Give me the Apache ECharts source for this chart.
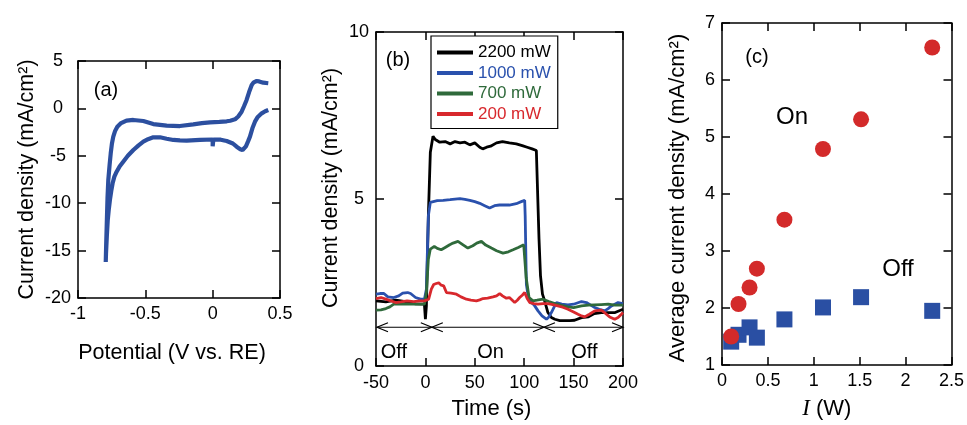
<!DOCTYPE html>
<html><head><meta charset="utf-8">
<script src="https://cdn.jsdelivr.net/npm/echarts@6/dist/echarts.min.js"></script>
<style>html,body{margin:0;padding:0;background:#fff}#c{width:967px;height:425px}</style>
</head><body><div id="c"></div>
<script>
// ---------- (a) cyclic voltammogram: [potential V, current density mA/cm2] ----------
const cvUpperBranch = [[0.413,2.65],[0.376,2.71],[0.345,2.85],[0.327,2.89],[0.305,2.75],[0.290,2.47],[0.270,1.70],[0.252,0.89],[0.232,0.20],[0.215,-0.35],[0.190,-0.85],[0.166,-1.15],[0.130,-1.30],[0.104,-1.36],[0.050,-1.42],[-0.020,-1.47],[-0.080,-1.56],[-0.144,-1.68],[-0.243,-1.86],[-0.342,-1.82],[-0.441,-1.65],[-0.515,-1.33],[-0.589,-1.22],[-0.640,-1.28],[-0.680,-1.55],[-0.708,-1.93],[-0.725,-2.40],[-0.738,-2.98],[-0.748,-3.70],[-0.757,-4.74],[-0.765,-5.90],[-0.775,-7.55],[-0.781,-9.50],[-0.787,-12.5],[-0.791,-14.5],[-0.794,-16.2]];
const cvLowerBranch = [[-0.792,-15.3],[-0.786,-13.5],[-0.779,-11.77],[-0.771,-10.6],[-0.763,-9.66],[-0.753,-8.70],[-0.743,-7.90],[-0.730,-7.20],[-0.713,-6.68],[-0.690,-6.10],[-0.664,-5.62],[-0.630,-5.00],[-0.589,-4.39],[-0.550,-3.90],[-0.515,-3.51],[-0.480,-3.25],[-0.441,-3.05],[-0.391,-3.05],[-0.342,-3.20],[-0.292,-3.33],[-0.243,-3.38],[-0.193,-3.40],[-0.094,-3.33],[0.000,-3.28],[0.000,-4.00],[0.005,-3.28],[0.060,-3.30],[0.104,-3.44],[0.150,-3.70],[0.178,-4.04],[0.205,-4.30],[0.222,-4.39],[0.235,-4.35],[0.247,-4.00],[0.262,-3.50],[0.277,-2.98],[0.295,-2.10],[0.314,-1.40],[0.335,-0.90],[0.364,-0.52],[0.390,-0.30],[0.413,-0.17]];

// ---------- (b) chronoamperometry: [time s, current density mA/cm2] ----------
const trace2200 = [[-50,1.95],[-40,1.92],[-30,1.97],[-20,1.93],[-10,1.86],[-1,1.85],[0,1.40],[1,1.80],[3,4.50],[5,6.40],[7.7,6.88],[10,6.78],[14.5,6.70],[20,6.72],[25,6.65],[30,6.72],[35,6.68],[40,6.70],[45,6.62],[50,6.68],[55,6.55],[58,6.50],[62,6.55],[66,6.58],[72,6.68],[78,6.72],[85,6.68],[92,6.65],[98,6.60],[103,6.55],[108,6.50],[112.3,6.45],[113.5,6.40],[115,3.80],[116.5,2.70],[118.5,2.15],[120.7,1.95],[124,1.60],[127.5,1.45],[131,1.40],[136,1.36],[141,1.36],[146,1.36],[151,1.37],[158,1.45],[165,1.47],[171,1.57],[178,1.60],[185,1.60],[192,1.60],[200,1.70]];
const trace1000 = [[-50,2.15],[-46,2.17],[-42,2.17],[-38,2.07],[-32,2.05],[-27,2.10],[-23,2.18],[-18,2.20],[-15,2.17],[-10,2.05],[-5,2.00],[-1,2.00],[1,2.30],[3,4.50],[5,4.90],[6,4.93],[12,4.95],[18,4.96],[25,4.98],[35,5.01],[40,4.99],[45,4.96],[50,4.92],[55,4.87],[60,4.80],[65,4.73],[70,4.80],[75,4.82],[85,4.82],[92,4.86],[97,4.92],[100.5,4.96],[101,4.50],[102.2,2.44],[104,2.10],[105.6,1.95],[110,1.83],[114,1.65],[118,1.50],[122.5,1.40],[125,1.47],[127.5,1.60],[130,1.75],[132.6,1.90],[138,1.85],[144.3,1.83],[150,1.85],[158,1.93],[163,1.90],[167,1.83],[171.4,1.75],[176,1.70],[181.5,1.65],[185,1.72],[188.3,1.80],[195,1.90],[200,1.87]];
const trace700 = [[-50,1.67],[-45,1.68],[-40,1.72],[-36,1.77],[-32,1.85],[-25,1.86],[-15,1.85],[-5,1.85],[-1,1.85],[1,2.20],[3,3.20],[5,3.50],[6,3.53],[9,3.58],[12,3.52],[16,3.48],[20,3.55],[24.6,3.63],[28,3.68],[33,3.73],[37,3.65],[43,3.53],[48,3.60],[52,3.68],[56.7,3.73],[61,3.62],[66.8,3.53],[72,3.45],[78.5,3.38],[84,3.42],[88.7,3.48],[94,3.55],[99.5,3.63],[100.5,3.60],[102,2.64],[104.9,2.05],[108.9,1.95],[113,1.97],[119,2.00],[125,1.93],[131,1.87],[137,1.82],[144,1.77],[150,1.75],[158,1.80],[165,1.82],[171,1.83],[178,1.84],[185,1.85],[192,1.82],[200,1.82]];
const trace200 = [[-50,2.02],[-45,2.05],[-40,2.00],[-35,1.95],[-30,1.90],[-25,1.92],[-18.5,1.95],[-12,1.93],[-5,1.95],[-1,1.95],[1,1.97],[3.3,2.00],[6,2.30],[8.4,2.44],[11,2.47],[13.5,2.49],[16,2.42],[18.5,2.40],[21.3,2.20],[26,2.18],[31.4,2.15],[36,2.07],[41.5,2.00],[46,1.97],[51.6,1.95],[55,1.98],[58.3,2.02],[63,2.03],[68.4,2.07],[72,2.10],[75.2,2.17],[78,2.10],[82,2.03],[85,2.05],[87,2.07],[90.4,1.90],[93,1.97],[95.4,2.05],[98,2.12],[100.5,2.20],[103,2.02],[105.6,1.90],[110,1.87],[114,1.85],[119,1.87],[124,1.87],[129,1.84],[134,1.80],[139,1.76],[144.3,1.70],[150,1.62],[154.5,1.55],[158,1.50],[161.2,1.47],[166,1.55],[171.4,1.65],[178,1.67],[182,1.58],[186.5,1.47],[191.6,1.40],[195,1.45],[198.4,1.55],[200,1.60]];
const traceNames = ['2200 mW','1000 mW','700 mW','200 mW'];
const phaseBounds = [-49, 6.5, 120, 200];
const phaseArrowLevel = 1.16;
const phaseNames = ['Off','On','Off'];
const phaseLabelTime = [-32, 66, 161];
const phaseLabelLevel = 0.39;

// ---------- (c) average current density vs light power ----------
const powerW = [0.10, 0.18, 0.30, 0.38, 0.68, 1.10, 1.515, 2.29];
const onAvg  = [1.50, 2.07, 2.36, 2.69, 3.55, 4.79, 5.31, 6.57];
const offAvg = [1.41, 1.53, 1.66, 1.48, 1.80, 2.01, 2.19, 1.95];

// ---------- styling ----------
const FONT = 'Liberation Sans';
const cvColor = '#2c4f9f';
const traceColors = ['#000000', '#2a51ad', '#2f6a3b', '#d8282d'];
const onColor = '#d32a2a';
const offColor = '#2a4fa3';
const zip = (a, b) => a.map((v, i) => [v, b[i]]);

function mkAxis(gi, pos, min, max, interval, label, extra) {
  const ax = {
    type: 'value', gridIndex: gi, position: pos, min: min, max: max, interval: interval,
    axisLine: {show: true, onZero: false, lineStyle: {color: '#000', width: 1.5}},
    axisTick: {show: true, inside: true, length: 8, lineStyle: {color: '#000', width: 1.5}},
    axisLabel: Object.assign({show: !!label, color: '#000', fontSize: 18, fontFamily: FONT, showMinLabel: true, showMaxLabel: true}, label || {}),
    splitLine: {show: false}
  };
  return Object.assign(ax, extra || {});
}
function nameOpts(name, gap, size, pad, rich) {
  return {
    name: name, nameLocation: 'middle', nameGap: gap,
    nameTextStyle: {color: '#000', fontSize: size, fontFamily: FONT, padding: pad, rich: rich}
  };
}

const grids = [
  {left: 78, top: 61, width: 202, height: 237},
  {left: 376, top: 32, width: 247, height: 337},
  {left: 722, top: 23, width: 230, height: 344}
];

const xAxes = [
  mkAxis(0, 'bottom', -1, 0.5, 0.5, {margin: 7}, nameOpts('Potential (V vs. RE)', 44, 21.5, [0, 14, 0, 0])),
  mkAxis(0, 'top', -1, 0.5, 0.5, null),
  mkAxis(1, 'bottom', -50, 200, 50, {margin: 8}, nameOpts('Time (s)', 32, 22, [0, 16, 0, 0])),
  mkAxis(1, 'top', -50, 200, 50, null),
  mkAxis(2, 'bottom', 0, 2.5, 0.5, {margin: 7}, nameOpts('{i|I} (W)', 32, 22, [0, 20, 0, 0], {i: {fontFamily: 'Liberation Serif', fontStyle: 'italic', fontSize: 23, color: '#000'}})),
  mkAxis(2, 'top', 0, 2.5, 0.5, null)
];
const yAxes = [
  mkAxis(0, 'left', -20, 5, 5, {margin: 20, align: 'center'}, Object.assign(nameOpts('Current density (mA/cm²)', 40, 21.5, [0, 0, 0, 0]), {nameRotate: 90})),
  mkAxis(0, 'right', -20, 5, 5, null),
  mkAxis(1, 'left', 0, 10, 5, {margin: 17, align: 'center'}, Object.assign(nameOpts('Current density (mA/cm²)', 34, 21.5, [0, 0, 0, 22]), {nameRotate: 90})),
  mkAxis(1, 'right', 0, 10, 5, null),
  mkAxis(2, 'left', 1, 7, 1, {margin: 12, align: 'center'}, Object.assign(nameOpts('Average current density (mA/cm²)', 33, 22, [0, 8, 0, 0]), {nameRotate: 90})),
  mkAxis(2, 'right', 1, 7, 1, null)
];

const traces = [trace2200, trace1000, trace700, trace200];
const series = [];
series.push({
  type: 'line', xAxisIndex: 0, yAxisIndex: 0, data: cvUpperBranch.concat(cvLowerBranch),
  showSymbol: false, lineStyle: {color: cvColor, width: 4.2}, itemStyle: {color: cvColor}, silent: true
});
traces.forEach((tr, i) => series.push({
  type: 'line', name: traceNames[i], xAxisIndex: 2, yAxisIndex: 2, data: tr,
  showSymbol: false, lineStyle: {color: traceColors[i], width: 2.8}, itemStyle: {color: traceColors[i]}
}));
// phase arrows
const phaseSegments = phaseNames.map((n, i) => [phaseBounds[i], phaseBounds[i + 1], phaseArrowLevel]);
series.push({
  type: 'custom', xAxisIndex: 2, yAxisIndex: 2, data: phaseSegments, silent: true,
  renderItem: function (params, api) {
    const a = api.coord([api.value(0), api.value(2)]);
    const b = api.coord([api.value(1), api.value(2)]);
    const L = 11, H = 4.5;
    const st = {stroke: '#000', lineWidth: 1.2, fill: null};
    return {type: 'group', children: [
      {type: 'line', shape: {x1: a[0], y1: a[1], x2: b[0], y2: b[1]}, style: st},
      {type: 'polyline', shape: {points: [[a[0] + L, a[1] - H], [a[0], a[1]], [a[0] + L, a[1] + H]]}, style: st},
      {type: 'polyline', shape: {points: [[b[0] - L, b[1] - H], [b[0], b[1]], [b[0] - L, b[1] + H]]}, style: st}
    ]};
  }
});
series.push({
  type: 'custom', xAxisIndex: 2, yAxisIndex: 2, silent: true,
  data: phaseLabelTime.map(t => [t, phaseLabelLevel]),
  renderItem: function (params, api) {
    const p = api.coord([api.value(0), api.value(1)]);
    return {type: 'text', x: p[0], y: p[1], style: {text: phaseNames[params.dataIndex], fontSize: 20, fontFamily: FONT, fill: '#000', align: 'center', verticalAlign: 'middle'}};
  }
});
series.push({
  type: 'scatter', name: 'Off', xAxisIndex: 4, yAxisIndex: 4, data: zip(powerW, offAvg),
  symbol: 'rect', symbolSize: 16, itemStyle: {color: offColor, opacity: 1}
});
series.push({
  type: 'scatter', name: 'On', xAxisIndex: 4, yAxisIndex: 4, data: zip(powerW, onAvg),
  symbol: 'circle', symbolSize: 16, itemStyle: {color: onColor, opacity: 1}
});

const txt = (s, x, y, size) => ({type: 'text', x: x, y: y, style: {text: s, fontSize: size, fontFamily: FONT, fill: '#000', align: 'center', verticalAlign: 'middle'}});

const chart = echarts.init(document.getElementById('c'), null, {renderer: 'canvas'});
chart.setOption({
  animation: false,
  backgroundColor: '#fff',
  grid: grids,
  xAxis: xAxes,
  yAxis: yAxes,
  legend: {
    data: traceNames.map((n, i) => ({name: n, textStyle: {color: traceColors[i]}})),
    orient: 'vertical', left: 431, top: 36, padding: [8, 7, 6, 6], itemGap: 3.5,
    itemWidth: 36, itemHeight: 4, icon: 'rect',
    textStyle: {fontSize: 17, fontFamily: FONT},
    borderColor: '#000', borderWidth: 1.2, backgroundColor: '#fff', selectedMode: false
  },
  graphic: [
    txt('(a)', 106, 90, 20),
    txt('(b)', 398, 60, 20),
    txt('(c)', 757, 57, 20),
    txt('On', 792, 117, 24),
    txt('Off', 898, 269, 24)
  ],
  series: series
});
</script>
</body></html>
